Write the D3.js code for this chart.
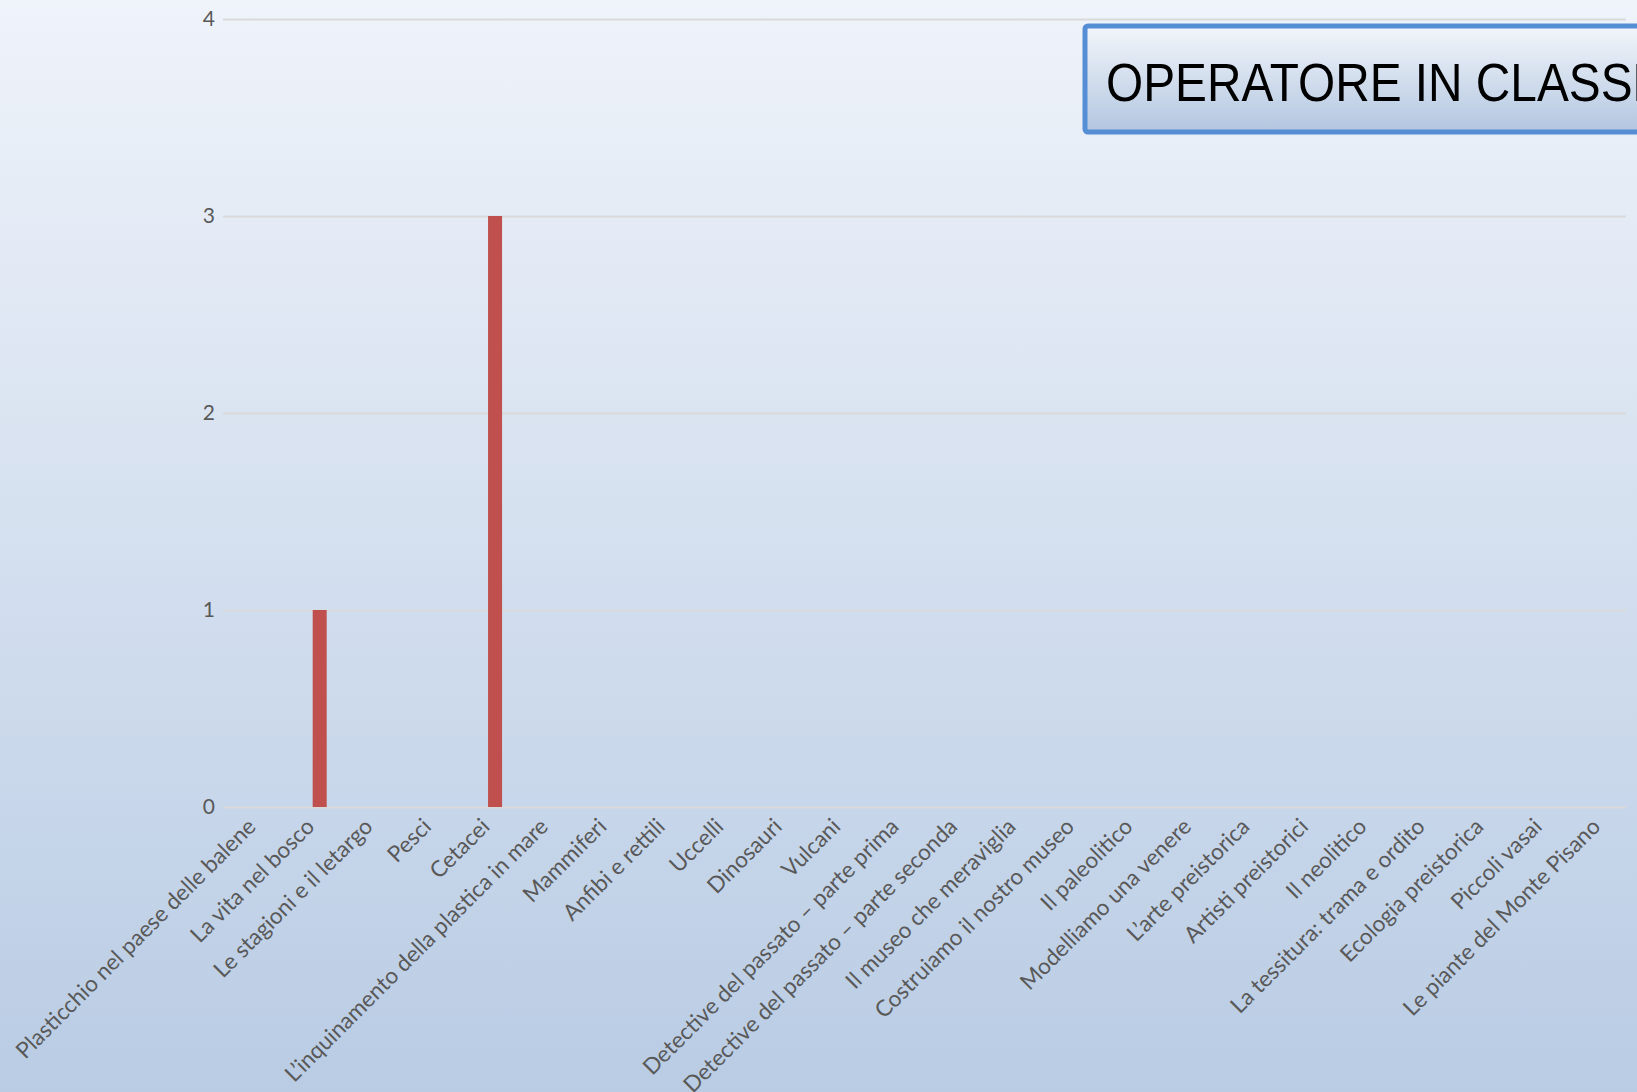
<!DOCTYPE html>
<html>
<head>
<meta charset="utf-8">
<style>
  html, body { margin: 0; padding: 0; overflow: hidden; }
  svg { display: block; }
</style>
</head>
<body>
<div id="chart"></div>
<script src="https://d3js.org/d3.v7.min.js"></script>
<script>
// categories (x axis)
var categories = [
  "Plasticchio nel paese delle balene",
  "La vita nel bosco",
  "Le stagioni e il letargo",
  "Pesci",
  "Cetacei",
  "L\u2019inquinamento della plastica in mare",
  "Mammiferi",
  "Anfibi e rettili",
  "Uccelli",
  "Dinosauri",
  "Vulcani",
  "Detective del passato \u2013 parte prima",
  "Detective del passato \u2013 parte seconda",
  "Il museo che meraviglia",
  "Costruiamo il nostro museo",
  "Il paleolitico",
  "Modelliamo una venere",
  "L\u2019arte preistorica",
  "Artisti preistorici",
  "Il neolitico",
  "La tessitura: trama e ordito",
  "Ecologia preistorica",
  "Piccoli vasai",
  "Le piante del Monte Pisano"
];

// two series, only the second one has values
var seriesNames = ["Serie 1", "Serie 2"];
var serie1 = [0,0,0,0,0,0,0,0,0,0,0,0,0,0,0,0,0,0,0,0,0,0,0,0];
var serie2 = [0,1,0,0,3,0,0,0,0,0,0,0,0,0,0,0,0,0,0,0,0,0,0,0];
var seriesColors = ["#4f81bd", "#c0504d"];

var yTicks = [0, 1, 2, 3, 4];
var titleText = "OPERATORE IN CLASSE";

var W = 1637, H = 1092;
var margin = {top: 19, right: 11, bottom: 285, left: 223};

var svg = d3.select("#chart").append("svg")
    .attr("width", W)
    .attr("height", H);

// background gradient
var defs = svg.append("defs");
var bg = defs.append("linearGradient").attr("id", "bg")
    .attr("x1", 0).attr("y1", 0).attr("x2", 0).attr("y2", 1);
bg.append("stop").attr("offset", "0%").attr("stop-color", "#eff3fa");
bg.append("stop").attr("offset", "100%").attr("stop-color", "#b9cce4");

var tg = defs.append("linearGradient").attr("id", "titlebg")
    .attr("x1", 0).attr("y1", 0).attr("x2", 0).attr("y2", 1);
tg.append("stop").attr("offset", "0%").attr("stop-color", "#f3f6fb");
tg.append("stop").attr("offset", "100%").attr("stop-color", "#b2c6e0");

svg.append("rect")
    .attr("width", W).attr("height", H)
    .attr("fill", "url(#bg)");

var data = categories.map(function(c, i) {
  return {cat: c, values: [serie1[i], serie2[i]]};
});

// x scale
var x0 = d3.scaleBand()
    .domain(categories)
    .range([margin.left, W - margin.right])
    .paddingInner(0.4526)
    .paddingOuter(0.2263);

var x1 = d3.scaleBand()
    .domain(seriesNames)
    .range([0, x0.bandwidth()])
    .paddingInner(0.222);

// y scale
var y = d3.scaleLinear()
    .domain([0, 4])
    .range([H - margin.bottom, margin.top]);

// gridlines + y labels
var yAxis = svg.append("g")
    .attr("transform", "translate(" + margin.left + ",0)")
    .call(d3.axisLeft(y).tickValues(yTicks).tickSize(-(W - margin.left - margin.right)).tickPadding(8).tickFormat(d3.format("d")));
yAxis.select(".domain").remove();
yAxis.selectAll(".tick line")
    .attr("stroke", "#d9d9d9")
    .attr("stroke-width", 2);
yAxis.selectAll(".tick text")
    .style("font-family", "Lato, 'Open Sans', sans-serif")
    .style("font-size", "21px")
    .attr("fill", "#595959");

// bars
svg.append("g")
  .selectAll("g")
  .data(data)
  .enter().append("g")
    .attr("transform", function(d) { return "translate(" + x0(d.cat) + ",0)"; })
  .selectAll("rect")
  .data(function(d) { return d.values.map(function(v, i) { return {key: seriesNames[i], value: v, i: i}; }); })
  .enter().append("rect")
    .attr("x", function(d) { return x1(d.key); })
    .attr("y", function(d) { return y(d.value); })
    .attr("width", x1.bandwidth())
    .attr("height", function(d) { return y(0) - y(d.value); })
    .attr("fill", function(d) { return seriesColors[d.i]; });

// x labels, rotated
svg.append("g")
  .selectAll("text")
  .data(categories)
  .enter().append("text")
    .attr("transform", function(d) {
      var cx = x0(d) + x0.bandwidth() / 2;
      return "translate(" + (cx + 5) + "," + (828) + ") rotate(-45)";
    })
    .attr("text-anchor", "end")
    .style("font-family", "Lato, 'Open Sans', sans-serif")
    .style("font-size", "22.5px")
    .attr("fill", "#595959")
    .text(function(d) { return d; });

// title box (cut off at the right edge)
var title = svg.append("g");
title.append("rect")
    .attr("x", 1085).attr("y", 26)
    .attr("width", 620).attr("height", 106)
    .attr("rx", 3)
    .attr("fill", "url(#titlebg)")
    .attr("stroke", "#558ed5")
    .attr("stroke-width", 5);
title.append("text")
    .attr("transform", "translate(1106,101) scale(0.885,1)")
    .style("font-family", "'Liberation Sans', Arial, sans-serif")
    .style("font-size", "54px")
    .attr("fill", "#000")
    .text(titleText);
</script>
</body>
</html>
